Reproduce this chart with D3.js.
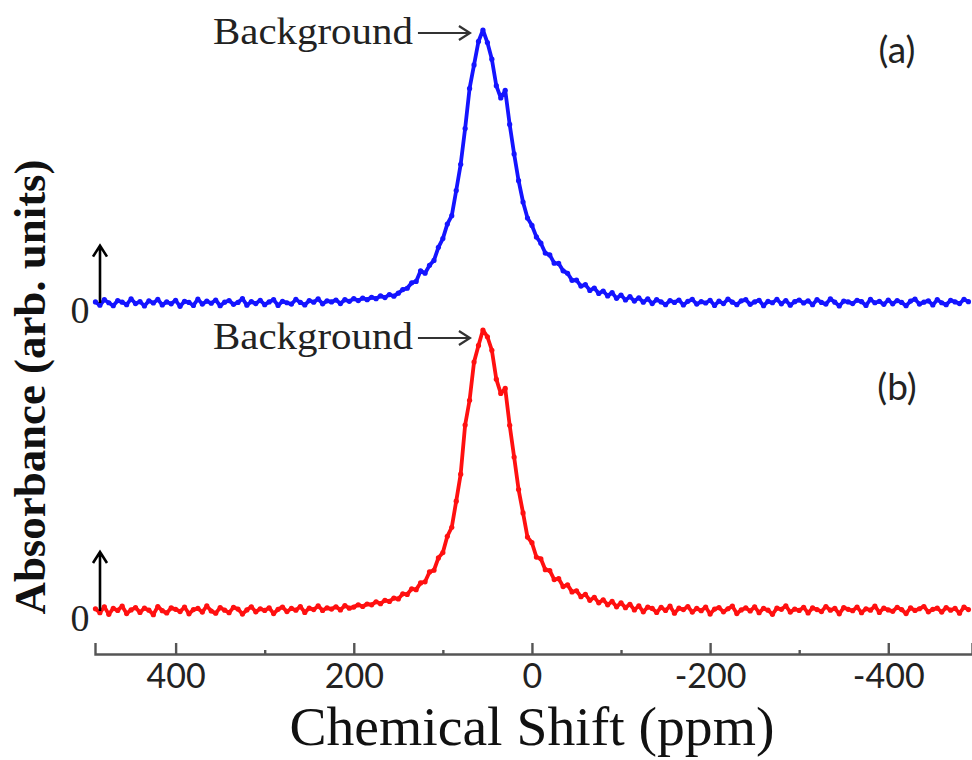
<!DOCTYPE html>
<meta charset="utf-8">
<script src="https://d3js.org/d3.v7.min.js"></script>
<style type="text/css">
body { margin: 0; background: #fff; }
.linha-azul { fill: none; stroke: #1414ff; stroke-width: 3.8; stroke-linejoin: round; }
.ponto-azul { fill: #1414ff; }
.linha-vermelha { fill: none; stroke: #ff1010; stroke-width: 3.8; stroke-linejoin: round; }
.ponto-vermelho { fill: #ff1010; }
.eixo path, .eixo line { stroke: #555; stroke-width: 2.4; }
.eixo text { font-family: Lato, sans-serif; font-size: 34px; fill: #222; }
.seta { fill: none; stroke: #333; stroke-width: 2.2; }
.seta-preta { fill: none; stroke: #000; stroke-width: 2.6; }
</style>
<body>
<div id="canvas"></div>
<script>

// deslocamento quimico (ppm), passo de 5 ppm
var shift = [
  490, 485, 480, 475, 470, 465, 460, 455, 450, 445,
  440, 435, 430, 425, 420, 415, 410, 405, 400, 395,
  390, 385, 380, 375, 370, 365, 360, 355, 350, 345,
  340, 335, 330, 325, 320, 315, 310, 305, 300, 295,
  290, 285, 280, 275, 270, 265, 260, 255, 250, 245,
  240, 235, 230, 225, 220, 215, 210, 205, 200, 195,
  190, 185, 180, 175, 170, 165, 160, 155, 150, 145,
  140, 135, 130, 125, 120, 115, 110, 105, 100, 95,
  90, 85, 80, 75, 70, 65, 60, 55, 50, 45,
  40, 35, 30, 25, 20, 15, 10, 5, 0, -5,
  -10, -15, -20, -25, -30, -35, -40, -45, -50, -55,
  -60, -65, -70, -75, -80, -85, -90, -95, -100, -105,
  -110, -115, -120, -125, -130, -135, -140, -145, -150, -155,
  -160, -165, -170, -175, -180, -185, -190, -195, -200, -205,
  -210, -215, -220, -225, -230, -235, -240, -245, -250, -255,
  -260, -265, -270, -275, -280, -285, -290, -295, -300, -305,
  -310, -315, -320, -325, -330, -335, -340, -345, -350, -355,
  -360, -365, -370, -375, -380, -385, -390, -395, -400, -405,
  -410, -415, -420, -425, -430, -435, -440, -445, -450, -455,
  -460, -465, -470, -475, -480, -485, -490
];

// espectro (a) - azul
var absA = [
  0.4, -0.8, 1.2, 0.1, -1.0, 0.9, 0.3, -0.6, 1.5, -0.2,
  0.5, -1.1, 0.8, 0.0, 1.3, -0.7, 0.4, -0.3, 1.0, -1.2,
  0.6, 0.2, -0.9, 1.4, -0.4, 0.7, -0.1, 1.1, -1.0, 0.3,
  0.9, -0.5, 0.2, 1.6, -0.8, 0.5, -0.2, 1.0, -0.6, 0.4,
  1.2, -0.9, 0.6, 0.1, -0.4, 1.3, 0.2, -0.7, 0.9, 0.3,
  1.5, -0.3, 0.8, 0.4, 1.1, -0.2, 1.2, 0.6, 1.6, 0.9,
  1.8, 1.2, 2.1, 1.6, 2.6, 2.0, 3.1, 2.5, 3.6, 4.9,
  5.4, 7.4, 7.9, 11.8, 10.9, 13.8, 15.6, 20.4, 23.6, 28.9,
  32.0, 41.2, 50.8, 63.9, 78.6, 87.2, 95.8, 100, 95.4, 89.3,
  79.6, 75.1, 77.9, 65.4, 54.6, 44.8, 37.0, 31.1, 28.4, 24.2,
  21.9, 18.3, 17.6, 14.6, 14.5, 11.8, 10.9, 8.3, 8.4, 6.2,
  6.7, 4.6, 5.5, 3.5, 4.4, 2.6, 3.8, 1.7, 2.9, 1.1,
  2.3, 0.7, 1.9, 0.3, 1.5, -0.2, 1.2, 0.4, -0.6, 0.9,
  0.2, 1.1, -0.7, 0.6, 1.3, -0.4, 0.5, 0.0, 1.0, -0.9,
  0.7, -0.2, 1.4, 0.3, -0.6, 0.8, 1.2, -0.5, 0.4, 1.0,
  -1.0, 0.6, 0.1, 1.3, -0.3, 0.9, -0.8, 0.5, 1.1, 0.0,
  0.8, -0.6, 1.2, 0.2, -0.4, 1.5, 0.3, -1.1, 0.7, 0.4,
  -0.2, 1.0, 0.5, -0.9, 1.3, 0.1, 0.6, -0.5, 1.1, -0.3,
  0.9, 0.2, -1.0, 0.7, 1.4, -0.4, 0.3, 0.8, -0.7, 1.2,
  0.1, -0.6, 1.0, 0.4, -0.2, 1.3, 0.5
];

// espectro (b) - vermelho
var absB = [
  0.8, -0.6, 1.5, -1.2, 0.9, 0.2, 1.7, -0.9, 0.4, 1.2,
  -0.5, 1.0, 0.3, -1.3, 1.6, 0.1, -0.7, 1.1, 0.6, -0.2,
  1.4, -1.0, 0.5, 0.9, -0.4, 1.8, 0.0, -0.8, 1.2, 0.3,
  -0.6, 1.3, 0.7, -1.1, 0.4, 1.5, -0.3, 0.8, 0.2, 1.1,
  -0.9, 0.6, 1.4, -0.2, 0.9, 0.3, 1.6, -0.5, 1.0, 0.5,
  1.8, 0.2, 1.1, 0.7, 1.5, 0.4, 1.9, 1.0, 1.4, 2.2,
  1.6, 2.5, 2.2, 3.3, 2.6, 3.8, 3.4, 4.6, 4.3, 6.1,
  5.9, 7.9, 7.6, 10.0, 10.4, 13.9, 14.5, 18.9, 20.8, 26.6,
  29.8, 39.1, 48.7, 66.2, 75.0, 88.6, 94.5, 100, 97.6, 92.8,
  82.5, 77.4, 79.2, 66.1, 54.8, 43.2, 34.9, 26.3, 24.3, 19.2,
  18.6, 14.7, 14.4, 11.2, 11.5, 8.7, 9.3, 6.8, 7.2, 5.1,
  5.9, 3.8, 4.9, 2.9, 4.0, 2.2, 3.4, 1.5, 2.9, 1.2,
  2.4, 0.4, 1.8, -0.3, 1.4, 0.9, -0.5, 1.3, 0.2, 1.7,
  -0.8, 1.0, 0.5, 1.6, -0.4, 0.9, 0.1, 1.4, -1.1, 0.7,
  1.2, -0.3, 0.8, 1.7, -0.9, 0.4, 1.1, 0.0, 1.5, -0.6,
  0.9, 0.3, -1.2, 1.0, 0.6, 1.8, -0.4, 0.7, 0.2, 1.3,
  -0.7, 1.1, 0.5, -0.2, 1.6, 0.3, 0.9, -1.0, 1.2, 0.6,
  0.1, 1.4, -0.6, 0.8, 0.3, 1.7, -0.5, 1.0, 0.4, -0.1,
  1.3, 0.5, -0.9, 1.1, 0.2, 0.8, 1.6, -0.3, 0.6, 1.0,
  -0.4, 1.2, 0.3, 0.9, -0.8, 1.4, 0.5
];

var majorTicks = [400, 200, 0, -200, -400];
var minorTicks = [300, 100, -100, -300];
var peakShift = 55;
var peakLabel = "Background";

var width = 972;
var height = 760;

var svg = d3.select('#canvas')
    .append("svg")
    .attr("width", width)
    .attr("height", height)
    .style("background", "#fff");

// escalas
var x = d3.scaleLinear().domain([490.5, -494]).range([95, 972]);
var yA = d3.scaleLinear().domain([0, 100]).range([303, 30]);
var yB = d3.scaleLinear().domain([0, 100]).range([611, 330]);

// eixo X ---------------------------------------------------------
var eixoY = 654;
svg.append("g")
    .attr("class", "eixo")
    .attr("transform", "translate(0," + eixoY + ")")
    .call(d3.axisBottom(x).tickValues(majorTicks)
        .tickFormat(function(d) { return String(d); })   // hifen simples
        .tickSizeInner(-11).tickSizeOuter(-11).tickPadding(10))
    .call(function(g) { g.selectAll("path").attr("fill", "none"); });

svg.append("g")
    .attr("class", "eixo")
    .attr("transform", "translate(0," + eixoY + ")")
    .call(d3.axisBottom(x).tickValues(minorTicks).tickSize(-4).tickFormat(""))
    .call(function(g) { g.select(".domain").remove(); });

// desenha os espectros ---------------------------------------------
function desenha(valores, y, classeLinha, classePonto) {
    var dados = shift.map(function(s, i) { return {s: s, v: valores[i]}; });
    var line = d3.line()
        .x(function(d) { return x(d.s); })
        .y(function(d) { return y(d.v); });
    svg.append("path")
        .attr("d", line(dados))
        .attr("class", classeLinha);
    svg.append("g").selectAll("circle")
        .data(dados)
        .enter()
        .append("circle")
        .attr("class", classePonto)
        .attr("cx", function(d) { return x(d.s); })
        .attr("cy", function(d) { return y(d.v); })
        .attr("r", 2.6);
}
desenha(absA, yA, "linha-azul", "ponto-azul");
desenha(absB, yB, "linha-vermelha", "ponto-vermelho");

// anotacoes "Background" -------------------------------------------
function anotacao(y, dy) {
    var xTip = x(peakShift) - 13;
    var yTip = y(100) + dy;
    svg.append("path")
        .attr("class", "seta")
        .attr("d", "M" + (xTip - 52) + "," + yTip + "L" + xTip + "," + yTip +
                   "M" + (xTip - 11) + "," + (yTip - 7) + "L" + xTip + "," + yTip +
                   "L" + (xTip - 11) + "," + (yTip + 7));
    svg.append("text")
        .attr("x", xTip - 57)
        .attr("y", yTip + 11)
        .attr("text-anchor", "end")
        .attr("textLength", 200)
        .attr("lengthAdjust", "spacingAndGlyphs")
        .style("font-family", "'Liberation Serif', 'Times New Roman', serif")
        .style("font-size", "37px")
        .style("fill", "#222")
        .text(peakLabel);
}
anotacao(yA, 3);
anotacao(yB, 8);

// setas verticais e zeros -------------------------------------------
function setaVertical(y) {
    var xs = x(490.5) + 5;
    svg.append("path")
        .attr("class", "seta-preta")
        .attr("d", "M" + xs + "," + y(0) + "V" + y(21) +
                   "M" + (xs - 7) + "," + (y(21) + 11) + "L" + xs + "," + y(21) +
                   "L" + (xs + 7) + "," + (y(21) + 11));
    svg.append("text")
        .attr("x", xs - 20)
        .attr("y", y(0) + 20)
        .attr("text-anchor", "middle")
        .style("font-family", "'Liberation Serif', 'Times New Roman', serif")
        .style("font-size", "38px")
        .style("fill", "#222")
        .text("0");
}
setaVertical(yA);
setaVertical(yB);

// rotulos (a) e (b)
svg.append("text")
    .attr("x", 897).attr("y", yA(88))
    .attr("text-anchor", "middle")
    .style("font-family", "Lato, sans-serif").style("font-size", "37px").style("fill", "#222")
    .text("(a)");
svg.append("text")
    .attr("x", 897).attr("y", yB(75))
    .attr("text-anchor", "middle")
    .style("font-family", "Lato, sans-serif").style("font-size", "37px").style("fill", "#222")
    .text("(b)");

// titulos dos eixos
svg.append("text")
    .attr("x", x(0))
    .attr("y", 745)
    .attr("text-anchor", "middle")
    .attr("textLength", 485)
    .attr("lengthAdjust", "spacingAndGlyphs")
    .style("font-family", "'Liberation Serif', 'Times New Roman', serif")
    .style("font-size", "55px")
    .style("fill", "#111")
    .text("Chemical Shift (ppm)");

svg.append("text")
    .attr("transform", "translate(45,387) rotate(-90)")
    .attr("text-anchor", "middle")
    .attr("textLength", 455)
    .attr("lengthAdjust", "spacingAndGlyphs")
    .style("font-family", "'Liberation Serif', 'Times New Roman', serif")
    .style("font-weight", "bold")
    .style("font-size", "44px")
    .style("fill", "#111")
    .text("Absorbance (arb. units)");
</script>
</body>
